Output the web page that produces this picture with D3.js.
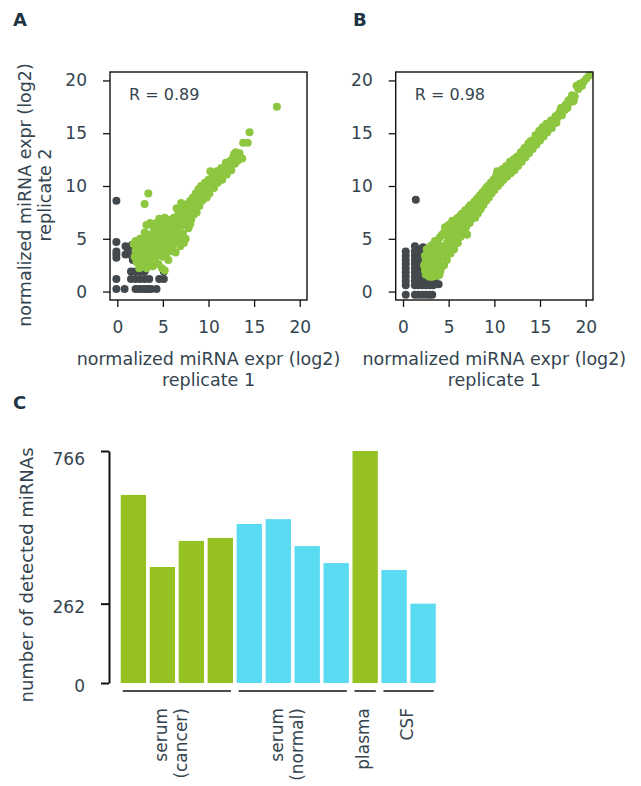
<!DOCTYPE html>
<html>
<head>
<meta charset="utf-8">
<script src="https://cdn.jsdelivr.net/npm/d3@7"></script>
<style>
  body { margin: 0; background: #fff; }
  svg { display: block; font-family: "DejaVu Sans", sans-serif; }
</style>
</head>
<body>
<div id="chart"></div>
<script>
// ---- data ----
const scatterTicks = [0, 5, 10, 15, 20];

// panel A: replicate 1 vs replicate 2 (log2)
const repAGrey = [
  [-0.1, 8.6], [-0.1, 4.7], [-0.1, 3.8], [-0.1, 3.5], [-0.1, 3.2], [-0.1, 1.2], [-0.1, 0.25],
  [0.8, 0.25], [0.9, 4.3], [1.4, 4.0], [0.9, 3.5], [1.4, 3.5], [1.6, 4.4],
  [2.0, 0.25], [2.4, 0.25], [2.8, 0.25], [3.1, 0.25], [3.4, 0.25], [3.7, 0.25], [4.3, 0.25],
  [1.5, 1.9], [2.0, 1.9], [2.5, 1.9], [3.0, 1.9], [1.5, 1.2], [2.0, 1.2], [2.5, 1.2],
  [3.0, 1.2], [3.5, 1.2], [4.6, 1.2], [5.1, 1.2], [5.1, 1.9], [1.7, 3.0], [1.2, 3.8]
];
const repAGreen = [
  [1.8, 4.5], [2.0, 4.8], [2.2, 3.5], [2.3, 4.2], [2.5, 3.0], [2.6, 4.6], [2.8, 2.5], [2.9, 3.8],
  [3.0, 5.0], [3.1, 3.2], [3.2, 2.2], [3.3, 4.4], [3.4, 5.4], [3.5, 2.8], [3.6, 3.6], [3.7, 4.9],
  [3.8, 6.4], [3.9, 2.4], [4.0, 4.1], [4.1, 5.7], [4.2, 3.3], [4.3, 6.5], [4.4, 4.7], [4.5, 2.6],
  [4.6, 5.2], [4.7, 3.9], [4.8, 6.0], [4.9, 2.2], [5.0, 4.4], [5.1, 5.6], [5.2, 2.0], [5.3, 3.4],
  [5.4, 6.3], [5.5, 4.9], [2.1, 2.8], [2.4, 2.2], [2.7, 3.4], [3.0, 4.0], [3.5, 4.2], [4.0, 3.0],
  [4.4, 3.6], [3.2, 6.3], [3.6, 6.5], [2.0, 3.9], [1.9, 3.3],
  [2.2, 4.0], [2.6, 3.6], [2.8, 4.2], [3.1, 4.6], [3.3, 3.7], [3.5, 5.0], [3.8, 4.5], [3.9, 5.4],
  [4.1, 3.7], [4.3, 4.9], [4.5, 5.6], [4.7, 4.4], [4.9, 5.0], [5.0, 3.3], [5.2, 5.3], [5.4, 4.0],
  [2.3, 3.1], [3.4, 2.5], [3.8, 3.3], [4.2, 2.8], [5.0, 6.6], [4.0, 6.0], [3.0, 5.6], [2.5, 5.0],
  [5.6, 5.8], [5.7, 3.8], [5.8, 6.8], [5.9, 5.1], [6.0, 4.2], [6.1, 6.1], [6.2, 7.0], [6.3, 5.4],
  [6.4, 3.7], [6.5, 5.9], [6.6, 6.6], [6.7, 7.4], [6.8, 4.8], [6.9, 4.3], [7.0, 6.2], [7.1, 7.0],
  [7.2, 5.5], [7.3, 7.8], [7.4, 6.6], [7.5, 5.0], [7.6, 7.2], [7.7, 8.3], [7.8, 6.0], [7.9, 7.6],
  [8.0, 8.6], [8.1, 6.8], [8.2, 7.9], [8.3, 8.9], [8.4, 7.3], [8.5, 8.3], [8.6, 9.3], [8.7, 7.5],
  [8.8, 8.6], [8.9, 9.7], [9.0, 8.1], [9.1, 9.0], [9.2, 10.0], [9.3, 8.6], [9.5, 9.4], [5.6, 3.0],
  [6.2, 4.6], [7.3, 4.6], [8.0, 6.4], [6.5, 7.9], [7.0, 8.4], [5.2, 7.0], [4.6, 6.9],
  [5.6, 5.0], [5.8, 4.6], [5.9, 6.3], [6.1, 5.3], [6.3, 6.4], [6.6, 5.2], [6.8, 6.6], [7.0, 7.5],
  [7.2, 6.4], [7.5, 7.6], [7.7, 6.7], [7.9, 8.2], [8.1, 7.6], [8.3, 8.0], [8.6, 8.0], [8.8, 9.1],
  [9.0, 9.4], [9.3, 9.5], [9.4, 9.9], [9.6, 9.5], [6.0, 5.6], [6.4, 4.9],
  [9.6, 10.3], [9.7, 8.9], [9.8, 9.8], [10.0, 10.6], [10.1, 9.3], [10.3, 10.1], [10.4, 11.2],
  [10.6, 9.8], [10.7, 10.7], [10.9, 11.4], [11.0, 10.3], [11.2, 11.0], [11.4, 11.7], [11.5, 10.6],
  [11.7, 11.4], [11.9, 12.2], [12.0, 11.1], [12.2, 11.8], [12.4, 12.4], [12.5, 11.5], [12.7, 12.7],
  [12.9, 12.1], [13.0, 13.2], [13.2, 12.4], [13.4, 13.1], [13.7, 12.6], [13.8, 14.1], [14.3, 14.1],
  [10.0, 10.0], [10.5, 10.4], [11.0, 11.0], [11.3, 11.3], [11.8, 11.8], [12.3, 12.1], [12.8, 13.0],
  [14.5, 15.1], [17.5, 17.5], [3.4, 9.3], [3.0, 8.3], [9.8, 8.9], [10.2, 11.4]
];

// panel B
const repBGrey = [
  [0.3, -0.3], [0.3, 0.6], [0.3, 1.0], [0.3, 1.4], [0.3, 1.8], [0.3, 2.2], [0.3, 2.6], [0.3, 3.0],
  [0.3, 3.4], [0.3, 3.8], [1.3, -0.3], [1.3, 0.6], [1.3, 1.0], [1.3, 1.4], [1.3, 1.8], [1.3, 2.2],
  [1.3, 2.6], [1.3, 3.0], [1.3, 3.4], [1.3, 3.8], [1.3, 4.3], [1.4, 8.7], [1.7, -0.3], [2.1, -0.3],
  [2.5, -0.3], [2.9, -0.3], [3.2, -0.3], [1.7, 0.6], [2.1, 0.6], [2.5, 0.6], [2.9, 0.6], [3.3, 0.6],
  [3.9, 0.7], [1.7, 1.2], [2.1, 1.5], [1.8, 2.0], [1.7, 2.6], [1.8, 3.2], [2.0, 3.6], [2.2, 4.2],
  [1.9, 4.0], [2.1, 2.4], [2.2, 1.0], [3.5, 1.0], [3.2, 1.2], [2.6, 1.2], [1.6, 3.7]
];
const repBGreen = [
  [2.3, 2.5], [2.4, 3.4], [2.5, 1.6], [2.6, 4.0], [2.7, 2.2], [2.8, 3.0], [2.9, 1.4], [3.0, 3.8],
  [3.1, 2.6], [3.2, 4.4], [3.3, 1.8], [3.4, 3.3], [3.5, 4.8], [3.6, 2.3], [3.7, 4.0], [3.8, 1.5],
  [3.9, 3.0], [4.0, 5.1], [4.1, 2.0], [4.2, 4.3], [4.3, 3.4], [4.4, 5.5], [4.5, 2.5], [4.6, 6.1],
  [4.7, 4.0], [4.8, 3.0], [4.9, 5.2], [5.0, 6.3], [5.1, 4.5], [5.2, 3.6], [5.3, 5.8], [5.4, 6.7],
  [5.5, 4.9], [5.6, 4.0], [5.7, 6.2], [5.8, 5.4], [5.9, 6.9], [6.0, 4.6], [6.1, 5.9], [6.2, 7.1],
  [6.3, 5.2], [6.4, 6.5], [6.5, 7.4], [6.6, 5.6], [6.7, 6.8], [6.8, 7.7], [6.9, 6.1], [7.0, 5.4],
  [7.1, 7.2], [7.2, 8.0], [7.3, 6.5], [2.5, 3.0], [3.0, 2.0], [3.5, 1.5], [4.0, 1.6], [3.2, 1.4],
  [2.4, 2.0], [2.6, 2.8], [2.7, 3.6], [2.9, 2.3], [3.0, 4.3], [3.1, 1.8], [3.3, 2.9], [3.4, 4.1],
  [3.6, 3.5], [3.7, 2.0], [3.8, 4.6], [3.9, 2.5], [4.1, 3.4], [4.2, 5.3], [4.3, 2.4], [4.4, 4.0],
  [4.6, 3.3], [4.7, 5.4], [4.8, 4.6], [5.0, 3.8], [5.1, 5.5], [5.2, 6.4], [5.3, 4.3], [5.5, 5.7],
  [5.6, 6.6], [5.7, 4.8], [5.9, 5.9], [6.0, 7.0], [6.1, 5.1], [6.3, 6.2], [6.4, 7.3], [6.5, 5.9],
  [6.7, 6.3], [6.9, 7.4], [7.0, 6.7], [7.2, 7.0],
  [7.4, 7.6], [7.5, 6.9], [7.6, 8.2], [7.7, 7.3], [7.8, 8.5], [7.9, 7.0], [8.0, 7.9], [8.1, 8.8],
  [8.2, 7.4], [8.3, 8.3], [8.4, 9.1], [8.5, 7.8], [8.6, 8.7], [8.7, 9.4], [8.8, 8.2], [8.9, 9.0],
  [9.0, 9.7], [9.1, 8.6], [9.2, 9.4], [9.3, 10.0], [9.4, 8.9], [9.5, 9.7], [9.6, 10.3], [9.7, 9.3],
  [9.8, 10.0], [9.9, 10.6], [10.0, 9.6], [10.1, 10.4], [10.2, 11.0], [10.3, 11.4], [10.4, 10.0],
  [10.5, 10.7], [10.6, 11.2], [10.7, 10.3], [10.8, 11.0], [10.9, 11.6], [11.0, 10.6], [11.2, 11.3],
  [11.3, 11.9], [11.4, 10.9], [11.6, 11.6], [11.7, 12.3], [11.8, 11.2], [12.0, 12.0], [12.1, 12.5],
  [12.2, 11.5], [12.4, 12.3], [12.5, 12.8], [12.6, 11.9], [12.8, 12.6], [12.9, 13.2], [13.0, 12.3],
  [8.0, 8.6], [6.8, 7.3], [7.4, 8.2], [7.5, 7.3], [7.7, 7.9], [7.9, 8.5], [8.1, 8.2], [8.3, 8.9],
  [8.5, 8.5], [8.7, 8.9], [9.0, 9.2], [9.2, 9.9], [9.4, 9.5], [9.7, 9.9], [10.0, 10.2], [10.2, 10.5],
  [10.5, 10.4], [10.8, 10.6], [11.1, 11.5], [11.5, 11.3], [11.9, 11.9], [12.3, 12.6], [12.7, 12.4],
  [13.2, 13.0], [13.3, 13.6], [13.4, 12.7], [13.6, 13.4], [13.7, 14.0], [13.8, 13.1], [14.0, 13.8],
  [14.1, 14.3], [14.2, 13.5], [14.4, 14.2], [14.5, 14.8], [14.6, 13.9], [14.8, 14.6], [14.9, 15.2],
  [15.0, 14.3], [15.2, 15.0], [15.3, 15.6], [15.4, 14.7], [15.6, 15.4], [15.7, 15.9], [15.8, 15.1],
  [16.0, 15.8], [16.2, 16.2], [16.3, 15.5], [16.5, 16.3], [16.7, 16.6], [16.8, 16.0], [17.0, 16.8],
  [17.2, 17.1], [17.4, 16.7], [17.6, 17.3], [17.8, 17.7], [18.0, 17.4], [18.2, 17.9], [18.4, 18.3],
  [18.6, 18.0], [18.8, 18.5], [19.0, 19.5], [19.4, 19.7], [19.8, 19.9], [20.1, 20.2], [20.4, 20.5],
  [13.1, 13.3], [13.5, 13.2], [13.9, 14.2], [14.3, 13.9], [14.7, 14.5], [15.1, 15.3], [15.5, 15.1],
  [15.9, 15.6], [16.4, 16.0], [16.9, 16.5], [17.3, 17.4], [17.7, 17.2], [18.1, 18.1], [18.5, 18.6],
  [18.7, 18.1], [19.2, 19.2], [19.6, 19.5], [7.0, 5.4]
];
const rLabels = ['R = 0.89', 'R = 0.98'];

// panel C: detected miRNAs per sample
const groupLabels = [['serum', '(cancer)'], ['serum', '(normal)'], ['plasma'], ['CSF']];
const sampleGroup = [0, 0, 0, 0, 1, 1, 1, 1, 2, 3, 3];
const sampleSet = [0, 0, 0, 0, 1, 1, 1, 1, 0, 1, 1];
const detectedCounts = [621, 383, 469, 479, 525, 541, 452, 396, 766, 373, 262];
const countTicks = [0, 262, 766];

// ---- style ----
const textColor = '#34444f';
const headColor = '#1e3546';
const dotGreen = '#8dc63f';
const dotGrey = '#43484c';
const barColors = ['#96c123', '#5bdbf2'];

const svg = d3.select('#chart').append('svg')
  .attr('width', 641)
  .attr('height', 786);

svg.append('rect').attr('width', 641).attr('height', 786).attr('fill', '#fff');

// panel letters
[['A', 13, 26], ['B', 353, 26], ['C', 13, 409]].forEach(([t, x, y]) => {
  svg.append('text')
    .attr('x', x).attr('y', y)
    .attr('fill', headColor)
    .attr('font-size', 18)
    .attr('font-weight', 'bold')
    .text(t);
});

function drawScatter(left, right, grey, green, rText, showYTitle) {
  const top = 72, bottom = 300;
  const x = d3.scaleLinear().domain([-0.8, 20.8]).range([left, right]);
  const y = d3.scaleLinear().domain([-0.8, 20.8]).range([bottom, top]);
  const g = svg.append('g');

  g.append('g')
    .attr('transform', `translate(0,${bottom})`)
    .call(d3.axisBottom(x).tickValues(scatterTicks).tickSize(7).tickPadding(14))
    .call(a => a.select('.domain').remove());

  g.append('g')
    .attr('transform', `translate(${left},0)`)
    .call(d3.axisLeft(y).tickValues(scatterTicks).tickSize(7).tickPadding(16))
    .call(a => a.select('.domain').remove());

  g.selectAll('.tick line').attr('stroke', '#111').attr('stroke-width', 1.3);
  g.selectAll('.tick text')
    .attr('fill', textColor)
    .attr('font-size', 17)
    .attr('font-family', '"DejaVu Sans", sans-serif');

  g.append('g').selectAll('circle')
    .data(grey)
    .join('circle')
    .attr('cx', d => x(d[0]))
    .attr('cy', d => y(d[1]))
    .attr('r', 4)
    .attr('fill', dotGrey);

  g.append('g').selectAll('circle')
    .data(green)
    .join('circle')
    .attr('cx', d => x(d[0]))
    .attr('cy', d => y(d[1]))
    .attr('r', 4)
    .attr('fill', dotGreen);

  g.append('rect')
    .attr('x', left).attr('y', top)
    .attr('width', right - left).attr('height', bottom - top)
    .attr('fill', 'none')
    .attr('stroke', '#111')
    .attr('stroke-width', 1.4);

  g.append('text')
    .attr('x', left + 19).attr('y', 100)
    .attr('fill', textColor)
    .attr('font-size', 16)
    .text(rText);

  const cx = (left + right) / 2;
  [['normalized miRNA expr (log2)', 365], ['replicate 1', 386]].forEach(([t, by]) => {
    g.append('text')
      .attr('x', cx).attr('y', by)
      .attr('text-anchor', 'middle')
      .attr('fill', textColor)
      .attr('font-size', 17.5)
      .text(t);
  });

  if (showYTitle) {
    [['normalized miRNA expr (log2)', 31], ['replicate 2', 51]].forEach(([t, bx]) => {
      g.append('text')
        .attr('transform', `translate(${bx},195) rotate(-90)`)
        .attr('text-anchor', 'middle')
        .attr('fill', textColor)
        .attr('font-size', 17.5)
        .text(t);
    });
  }
}

drawScatter(110, 307, repAGrey, repAGreen, rLabels[0], true);
drawScatter(395.7, 593, repBGrey, repBGreen, rLabels[1], false);

// ---- panel C ----
const xb = d3.scaleBand()
  .domain(d3.range(detectedCounts.length))
  .range([119, 437.5])
  .paddingInner(0.125)
  .paddingOuter(0.06);
const yb = d3.scaleLinear().domain([0, d3.max(detectedCounts)]).range([683, 451]);

const cg = svg.append('g');

cg.selectAll('.bar')
  .data(detectedCounts)
  .join('rect')
  .attr('class', 'bar')
  .attr('x', (d, i) => xb(i))
  .attr('y', d => yb(d))
  .attr('width', xb.bandwidth())
  .attr('height', d => yb(0) - yb(d))
  .attr('fill', (d, i) => barColors[sampleSet[i]]);

const yAxisC = cg.append('g')
  .attr('transform', 'translate(109,0)')
  .call(d3.axisLeft(yb).tickValues(countTicks).tickSize(8).tickPadding(16).tickSizeOuter(0));
yAxisC.select('.domain').attr('stroke', '#111').attr('stroke-width', 2);
yAxisC.selectAll('.tick line').attr('stroke', '#111').attr('stroke-width', 2);
yAxisC.selectAll('.tick text')
  .attr('fill', textColor)
  .attr('font-size', 17)
  .attr('font-family', '"DejaVu Sans", sans-serif')
  .attr('dy', d => d === d3.max(countTicks) ? '0.78em' : '0.5em');

cg.append('text')
  .attr('transform', `translate(33,575) rotate(-90)`)
  .attr('text-anchor', 'middle')
  .attr('fill', textColor)
  .attr('font-size', 18)
  .text('number of detected miRNAs');

// group brackets and labels
groupLabels.forEach((lines, gi) => {
  const idx = d3.range(sampleGroup.length).filter(i => sampleGroup[i] === gi);
  const x0 = xb(idx[0]) + 2;
  const x1 = xb(idx[idx.length - 1]) + xb.bandwidth() - 2;
  cg.append('line')
    .attr('x1', x0).attr('x2', x1)
    .attr('y1', 691).attr('y2', 691)
    .attr('stroke', '#111')
    .attr('stroke-width', 1.5);

  const mid = (x0 + x1) / 2;
  const lineGap = 20;
  lines.forEach((t, li) => {
    const bx = mid + (lines.length === 1 ? 4 : 0) + (li - (lines.length - 1) / 2) * lineGap;
    cg.append('text')
      .attr('transform', `translate(${bx},708) rotate(-90)`)
      .attr('text-anchor', 'end')
      .attr('fill', textColor)
      .attr('font-size', 17)
      .text(t);
  });
});
</script>
</body>
</html>
